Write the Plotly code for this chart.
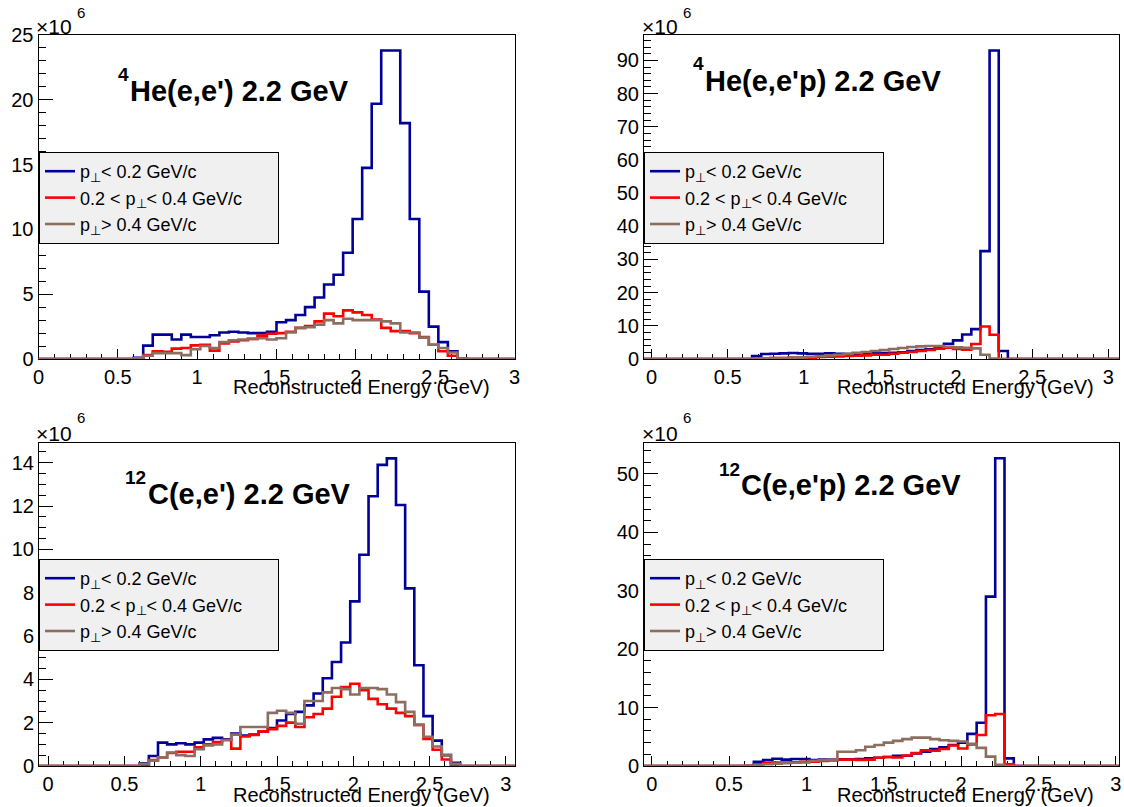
import numpy as np
import plotly.graph_objects as go

# ---------------- data (values in units of 10^6) ----------------
BIN_WIDTH = 0.06
FIRST_EDGE = 0.60          # lower edge of the first listed bin; bins run 0.60 ... 2.70
ALL_LO, ALL_HI = -0.12, 3.12

NB = "\u00a0"
labels = ["p<sub>⊥</sub>< 0.2 GeV/c",
          "0.2 < p<sub>⊥</sub>< 0.4 GeV/c" + NB * 6,
          "p<sub>⊥</sub>> 0.4 GeV/c"]

# 4He(e,e')
he_ee_low = [0.1, 1.03, 1.88, 1.88, 1.5, 1.88, 1.7, 1.7, 1.83, 2.05, 2.1, 2.05, 2.0, 2.0, 2.1,
             2.83, 3.0, 3.4, 4.0, 4.75, 5.75, 6.5, 8.2, 10.8, 14.75, 19.7, 23.8, 23.8, 18.2,
             10.8, 5.2, 2.5, 1.3, 0.6, 0.0, 0.0]
he_ee_mid = [0.05, 0.3, 0.6, 0.55, 0.8, 0.85, 1.05, 1.1, 0.65, 1.2, 1.35, 1.45, 1.55, 1.8, 1.95,
             2.0, 2.1, 2.4, 2.55, 2.9, 3.5, 3.3, 3.75, 3.6, 3.4, 3.05, 2.4, 2.15, 2.15, 2.0,
             1.7, 1.1, 0.6, 0.25, 0.0, 0.0]
he_ee_high = [0.05, 0.25, 0.45, 0.45, 0.45, 0.3, 0.75, 1.0, 0.85, 1.3, 1.45, 1.5, 1.55, 1.6, 1.5,
              1.6, 2.05, 2.4, 2.45, 2.65, 3.0, 2.75, 3.1, 3.0, 3.0, 3.0, 2.9, 2.75, 2.05, 2.05,
              1.65, 1.1, 0.85, 0.5, 0.05, 0.0]

# 4He(e,e'p)
he_eep_low = [0.0, 0.9, 1.5, 1.6, 1.7, 1.8, 1.7, 1.6, 1.6, 1.7, 1.6, 1.5, 1.5, 1.6, 1.7,
              1.8, 1.9, 2.0, 2.4, 2.7, 2.9, 3.2, 4.6, 5.6, 7.4, 9.0, 32.5, 93.0, 2.4, 0.0,
              0.0, 0.0, 0.0, 0.0, 0.0, 0.0]
he_eep_mid = [0.0, 0.1, 0.2, 0.3, 0.3, 0.4, 0.5, 0.4, 0.6, 0.7, 0.8, 0.9, 1.0, 1.1, 1.3,
              1.3, 1.6, 1.9, 2.1, 2.4, 2.7, 3.1, 3.4, 3.0, 2.8, 4.5, 9.8, 7.3, 0.0, 0.0,
              0.0, 0.0, 0.0, 0.0, 0.0, 0.0]
he_eep_high = [0.0, 0.1, 0.2, 0.3, 0.3, 0.4, 0.5, 0.7, 0.9, 1.1, 1.3, 1.6, 1.9, 2.1, 2.4,
               2.7, 3.0, 3.3, 3.6, 3.8, 3.9, 3.9, 3.7, 3.5, 3.4, 3.2, 1.3, 0.1, 0.0, 0.0,
               0.0, 0.0, 0.0, 0.0, 0.0, 0.0]

# 12C(e,e')
c_ee_low = [0.12, 0.46, 1.08, 1.0, 1.05, 1.0, 1.08, 1.23, 1.3, 1.23, 1.5, 1.4, 1.45, 1.6, 1.75,
            2.1, 2.4, 2.5, 2.8, 3.35, 4.05, 4.8, 5.7, 7.6, 9.75, 12.45, 13.9, 14.2, 12.05, 8.2,
            4.65, 2.3, 1.17, 0.5, 0.15, 0.0]
c_ee_mid = [0.05, 0.28, 0.4, 0.6, 0.66, 0.66, 0.86, 1.0, 1.1, 1.2, 0.8, 1.36, 1.43, 1.6, 1.7,
            1.85, 2.0, 1.8, 2.25, 2.4, 2.65, 3.2, 3.65, 3.8, 3.5, 3.1, 2.85, 2.65, 2.45, 2.3,
            1.9, 1.25, 0.75, 0.3, 0.05, 0.0]
c_ee_high = [0.1, 0.25, 0.4, 0.62, 0.5, 0.46, 0.77, 0.95, 1.0, 1.2, 1.45, 1.8, 1.8, 1.8, 2.45,
             2.55, 2.45, 1.95, 3.0, 3.0, 3.4, 3.6, 3.55, 3.3, 3.6, 3.6, 3.55, 3.3, 2.95, 2.5,
             1.9, 1.35, 0.9, 0.5, 0.1, 0.0]

# 12C(e,e'p)
c_eep_low = [0.0, 0.74, 1.0, 1.25, 1.1, 1.2, 1.2, 1.0, 1.1, 1.1, 1.15, 1.15, 1.2, 1.3, 1.4,
             1.55, 1.75, 1.75, 2.15, 2.45, 2.9, 3.2, 3.6, 4.0, 5.5, 7.4, 29.0, 52.7, 1.3, 0.0,
             0.0, 0.0, 0.0, 0.0, 0.0, 0.0]
c_eep_mid = [0.05, 0.3, 0.5, 0.6, 0.6, 0.65, 0.7, 0.75, 0.85, 0.95, 1.1, 1.1, 1.05, 1.1, 1.4,
             1.55, 1.45, 1.8, 2.2, 2.7, 2.6, 2.9, 3.5, 3.0, 3.7, 5.3, 8.7, 8.9, 0.3, 0.0,
             0.0, 0.0, 0.0, 0.0, 0.0, 0.0]
c_eep_high = [0.05, 0.15, 0.3, 0.4, 0.5, 0.55, 0.6, 0.9, 1.0, 1.1, 2.45, 2.45, 2.7, 3.3, 3.6,
              4.0, 4.3, 4.6, 4.85, 4.85, 4.6, 4.4, 4.3, 4.2, 3.8, 3.1, 1.6, 0.2, 0.0, 0.0,
              0.0, 0.0, 0.0, 0.0, 0.0, 0.0]

# ---------------- layout constants ----------------
W, H = 1124, 807
FONT = "Liberation Sans, Arial, Helvetica, sans-serif"
COLORS = ["#000099", "#ff0000", "#8c6d5e"]
LINE_W = 2.6
TICK_FS = 20
LEG_FS = 18

panels = [
    dict(series=[he_ee_low, he_ee_mid, he_ee_high], frame=(38.5, 35, 514.5, 359),
         xr=[0.0, 3.0], yr=[0, 25.0], ydt=5, ymin=1,
         sup="4", sup_xy=(116, 74), title="He(e,e') 2.2 GeV", title_xy=(128, 91),
         leg_xy=(39, 152), xt_xy=(492, 387), x10_xy=(34, 27), six_xy=(75, 12)),
    dict(series=[he_eep_low, he_eep_mid, he_eep_high], frame=(644, 35, 1119, 359),
         xr=[-0.05, 3.07], yr=[0, 97.65], ydt=10, ymin=2,
         sup="4", sup_xy=(691, 64), title="He(e,e'p) 2.2 GeV", title_xy=(703, 81),
         leg_xy=(644, 152), xt_xy=(1096, 387), x10_xy=(640, 27), six_xy=(681, 12)),
    dict(series=[c_ee_low, c_ee_mid, c_ee_high], frame=(39, 443, 515, 766),
         xr=[-0.06, 3.06], yr=[0, 14.91], ydt=2, ymin=0.5,
         sup="12", sup_xy=(123, 478), title="C(e,e') 2.2 GeV", title_xy=(146, 494),
         leg_xy=(39, 559), xt_xy=(492, 795), x10_xy=(34, 433), six_xy=(75, 417)),
    dict(series=[c_eep_low, c_eep_mid, c_eep_high], frame=(644, 443, 1119, 766),
         xr=[-0.05, 3.02], yr=[0, 55.3], ydt=10, ymin=2,
         sup="12", sup_xy=(717, 469), title="C(e,e'p) 2.2 GeV", title_xy=(739, 485),
         leg_xy=(644, 559), xt_xy=(1096, 795), x10_xy=(640, 433), six_xy=(681, 417)),
]


def hist_xy(vals):
    """Step outline over the full axis span; listed bins padded with empty bins."""
    n_before = int(round((FIRST_EDGE - ALL_LO) / BIN_WIDTH))
    n_total = int(round((ALL_HI - ALL_LO) / BIN_WIDTH))
    n_after = n_total - n_before - len(vals)
    y = [0.0] * n_before + list(vals) + [0.0] * n_after
    edges = np.round(ALL_LO + BIN_WIDTH * np.arange(n_total + 1), 4)
    return edges, y + [y[-1]]


def px(x):
    return x / W


def py(y):
    return 1 - y / H


fig = go.Figure()
annotations = []
layout_kw = {}

for i, p in enumerate(panels):
    n = "" if i == 0 else str(i + 1)
    leg = "legend" if i == 0 else f"legend{i + 1}"
    for k, (vals, col, lab) in enumerate(zip(p["series"], COLORS, labels)):
        xs, ys = hist_xy(vals)
        fig.add_trace(go.Scatter(
            x=xs, y=ys, mode="lines", name=lab,
            line=dict(color=col, width=LINE_W, shape="hv"),
            xaxis="x" + n, yaxis="y" + n, legend=leg, showlegend=True,
            hoverinfo="skip"))
    x0, y0, x1, y1 = p["frame"]
    layout_kw["xaxis" + n] = dict(
        domain=[px(x0), px(x1)], range=p["xr"], anchor="y" + n,
        showline=True, linecolor="black", linewidth=1, mirror=True,
        ticks="inside", ticklen=10, tickwidth=1, tickcolor="black",
        tick0=0, dtick=0.5, automargin=False,
        minor=dict(ticks="inside", ticklen=5, tickwidth=1, tickcolor="black", dtick=0.1, tick0=0),
        showgrid=False, zeroline=False, layer="below traces",
        tickfont=dict(family=FONT, size=TICK_FS, color="black"), fixedrange=True)
    layout_kw["yaxis" + n] = dict(
        domain=[py(y1), py(y0)], range=p["yr"], anchor="x" + n,
        showline=True, linecolor="black", linewidth=1, mirror=True,
        ticks="inside", ticklen=14, tickwidth=1, tickcolor="black",
        tick0=0, dtick=p["ydt"], automargin=False,
        minor=dict(ticks="inside", ticklen=7, tickwidth=1, tickcolor="black", dtick=p["ymin"], tick0=0),
        showgrid=False, zeroline=False, layer="below traces",
        tickfont=dict(family=FONT, size=TICK_FS, color="black"), fixedrange=True)
    lx, ly = p["leg_xy"]
    layout_kw[leg] = dict(
        x=px(lx), y=py(ly), xanchor="left", yanchor="top", xref="paper", yref="paper",
        bgcolor="#f0f0f0", bordercolor="black", borderwidth=1,
        font=dict(family=FONT, size=LEG_FS, color="black"), tracegroupgap=0,
        itemclick=False, itemdoubleclick=False)
    # title with superscript isotope number
    sx, sy = p["sup_xy"]
    annotations.append(dict(text=f"<b>{p['sup']}</b>", x=px(sx), y=py(sy), xref="paper", yref="paper",
                            xanchor="left", yanchor="middle", showarrow=False,
                            font=dict(family=FONT, size=19, color="black")))
    tx, ty = p["title_xy"]
    annotations.append(dict(text=f"<b>{p['title']}</b>", x=px(tx), y=py(ty), xref="paper", yref="paper",
                            xanchor="left", yanchor="middle", showarrow=False,
                            font=dict(family=FONT, size=29, color="black")))
    # x axis title (right aligned, ROOT style)
    xx, xy = p["xt_xy"]
    annotations.append(dict(text="Reconstructed Energy (GeV)", x=px(xx), y=py(xy), xref="paper", yref="paper",
                            xanchor="right", yanchor="middle", showarrow=False,
                            font=dict(family=FONT, size=20, color="black")))
    # exponent label
    ex, ey = p["x10_xy"]
    annotations.append(dict(text="×10", x=px(ex), y=py(ey), xref="paper", yref="paper",
                            xanchor="left", yanchor="middle", showarrow=False,
                            font=dict(family=FONT, size=21, color="black")))
    sx6, sy6 = p["six_xy"]
    annotations.append(dict(text="6", x=px(sx6), y=py(sy6), xref="paper", yref="paper",
                            xanchor="left", yanchor="middle", showarrow=False,
                            font=dict(family=FONT, size=15, color="black")))

fig.update_layout(
    width=W, height=H, margin=dict(l=0, r=0, t=0, b=0, pad=0, autoexpand=False),
    paper_bgcolor="white", plot_bgcolor="white",
    hovermode=False, annotations=annotations, **layout_kw)

fig.write_html("out.html", config={"displayModeBar": False},
               post_script="document.body.style.margin='0px';document.body.style.padding='0px';")
